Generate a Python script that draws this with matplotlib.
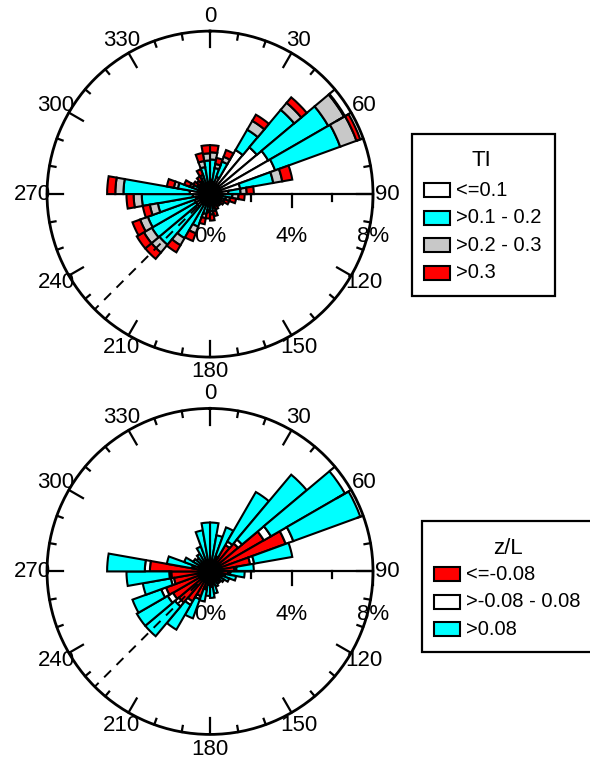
import numpy as np
import matplotlib
matplotlib.use('Agg')
import matplotlib.pyplot as plt
from matplotlib.patches import Rectangle
from matplotlib.transforms import Affine2D

plt.rcParams['font.family'] = ['Liberation Sans', 'DejaVu Sans']

# wind direction bins (start of each 10 degree sector)
dir_bins = np.arange(0, 360, 10)

# TI classes, % of time per sector
ti_le01 = [0.7, 0.6, 0.9, 2.5, 3.0, 3.3, 3.4, 1.5, 0.9, 0.6, 0.4, 0.3, 0.25, 0.2, 0.2, 0.25, 0.3, 0.35,
           0.3, 0.35, 0.5, 0.6, 0.8, 0.8, 0.8, 0.7, 0.85, 1.0, 0.6, 0.4, 0.3, 0.25, 0.3, 0.35, 0.55, 0.6]
ti_01_02 = [1.0, 0.7, 0.8, 1.15, 2.4, 3.4, 3.4, 1.65, 0.6, 0.5, 0.4, 0.3, 0.25, 0.2, 0.2, 0.25, 0.4, 0.5,
            0.5, 0.65, 1.2, 1.9, 2.45, 2.5, 2.45, 1.9, 2.5, 3.25, 1.0, 0.5, 0.3, 0.3, 0.35, 0.5, 0.8, 1.05]
ti_02_03 = [0.35, 0.2, 0.25, 0.5, 0.45, 0.9, 0.85, 0.45, 0.3, 0.3, 0.2, 0.15, 0.1, 0.1, 0.1, 0.1, 0.15, 0.15,
            0.1, 0.2, 0.35, 0.4, 0.5, 0.45, 0.4, 0.4, 0.4, 0.4, 0.2, 0.15, 0.1, 0.1, 0.1, 0.15, 0.3, 0.35]
ti_gt03 = [0.35, 0.3, 0.35, 0.35, 0.35, 0.05, 0.2, 0.5, 0.35, 0.3, 0.3, 0.25, 0.2, 0.2, 0.2, 0.2, 0.25, 0.3,
           0.3, 0.3, 0.4, 0.4, 0.4, 0.4, 0.4, 0.35, 0.35, 0.4, 0.35, 0.3, 0.25, 0.2, 0.25, 0.3, 0.4, 0.4]

# z/L classes, % of time per sector
zl_unstable = [0.4, 0.4, 0.7, 1.5, 1.8, 3.05, 3.95, 2.0, 1.2, 0.9, 0.7, 0.55, 0.45, 0.4, 0.4, 0.45, 0.6, 0.7,
               0.6, 0.8, 1.3, 1.7, 2.0, 2.1, 2.3, 1.8, 1.9, 2.95, 0.8, 0.5, 0.4, 0.35, 0.4, 0.45, 0.5, 0.45]
zl_neutral = [0.05, 0.05, 0.1, 0.2, 0.25, 0.4, 0.4, 0.2, 0.1, 0.1, 0.05, 0.05, 0.05, 0.05, 0.05, 0.05, 0.05, 0.05,
              0.05, 0.1, 0.15, 0.2, 0.25, 0.3, 0.25, 0.15, 0.1, 0.25, 0.1, 0.05, 0.05, 0.05, 0.05, 0.05, 0.05, 0.05]
zl_stable = [1.95, 1.35, 1.5, 2.8, 4.15, 4.2, 3.5, 1.9, 0.85, 0.7, 0.55, 0.4, 0.3, 0.25, 0.25, 0.3, 0.45, 0.55,
             0.55, 0.6, 1.0, 1.4, 1.9, 1.75, 1.5, 1.4, 2.1, 1.85, 1.25, 0.8, 0.5, 0.45, 0.55, 0.8, 1.5, 1.9]

ti_labels = ['<=0.1', '>0.1 - 0.2', '>0.2 - 0.3', '>0.3']
ti_colors = ['white', '#00ffff', '#c8c8c8', '#ff0000']
zl_labels = ['<=-0.08', '>-0.08 - 0.08', '>0.08']
zl_colors = ['#ff0000', 'white', '#00ffff']

RMAX = 8
FS = 16
W, H = 590, 764


def xy(x, y):
    # cartesian (east, north) -> (theta, r) for a N-up clockwise polar axis
    return np.arctan2(x, y), np.hypot(x, y)


def rose(ax, layers, colors):
    ax.set_theta_zero_location('N')
    ax.set_theta_direction(-1)
    theta = np.radians(dir_bins + 5)
    bottom = np.zeros(len(dir_bins))
    for vals, col in zip(layers, colors):
        ax.bar(theta, vals, width=np.radians(10), bottom=bottom, color=col,
               edgecolor='black', linewidth=1.5, zorder=2)
        bottom = bottom + np.array(vals)
    # black hub
    ax.bar(0, 0.6, width=2 * np.pi, bottom=0, color='black', linewidth=0, zorder=3)
    ax.set_ylim(0, RMAX)
    ax.grid(False)
    ax.set_xticks([])
    ax.set_yticks([])
    ax.spines['polar'].set_linewidth(2)

    # ticks around the circle
    for d in range(0, 360, 10):
        L = 0.8 if d % 30 == 0 else 0.3
        th = np.radians(d)
        ax.plot([th, th], [RMAX - L, RMAX], color='black', lw=1.6, zorder=4, clip_on=False)
    for d in range(0, 360, 30):
        ax.text(np.radians(d), 8.72, str(d), ha='center', va='center', fontsize=FS, clip_on=False)

    # radial axis along 90 deg
    ax.plot([np.pi / 2, np.pi / 2], [0, RMAX], color='black', lw=1.6, zorder=4)
    for rv, L in [(2, 0.33), (4, 0.65), (6, 0.33), (8, 0.65)]:
        t0, r0 = xy(rv, 0)
        t1, r1 = xy(rv, -L)
        ax.plot([t0, t1], [r0, r1], color='black', lw=1.6, zorder=4, clip_on=False)
    for rv in [0, 4, 8]:
        t, r = xy(rv, -2.1)
        ax.text(t, r, '%d%%' % rv, ha='center', va='center', fontsize=FS, zorder=6, clip_on=False)

    # dashed reference line
    th = np.radians(225)
    ax.plot([th, th], [0, RMAX], color='black', lw=1.4, dashes=(5, 4), zorder=5)


fig = plt.figure(figsize=(5.9, 7.64), dpi=100)

ax1 = fig.add_axes([0.0797, 0.5326, 0.5525, 0.4267], projection='polar')
rose(ax1, [ti_le01, ti_01_02, ti_02_03, ti_gt03], ti_colors)

ax2 = fig.add_axes([0.0797, 0.0387, 0.5525, 0.4267], projection='polar')
rose(ax2, [zl_unstable, zl_neutral, zl_stable], zl_colors)

# legend boxes drawn in figure pixel coordinates
px = Affine2D().scale(1 / W, -1 / H).translate(0, 1) + fig.transFigure


def add_legend(labels, colors, title, x0, y0, x1, y1, title_x, title_y, row_y0, row_dy):
    fig.add_artist(Rectangle((x0, y0), x1 - x0, y1 - y0, transform=px, facecolor='white',
                             edgecolor='black', linewidth=1.6, clip_on=False))
    fig.text(title_x, title_y, title, transform=px, ha='center', va='center', fontsize=16)
    for i, (lab, col) in enumerate(zip(labels, colors)):
        yc = row_y0 + i * row_dy
        fig.add_artist(Rectangle((x0 + 12, yc - 7), 26, 14, transform=px, facecolor=col,
                                 edgecolor='black', linewidth=1.5))
        fig.text(x0 + 44, yc, lab, transform=px, ha='left', va='center', fontsize=14.5)


add_legend(ti_labels, ti_colors, 'TI', 412, 134, 555, 296, 481, 160, 190, 27.6)
add_legend(zl_labels, zl_colors, 'z/L', 422, 521, 600, 652, 508, 548, 574, 27.6)

fig.savefig('out.png', dpi=100)
